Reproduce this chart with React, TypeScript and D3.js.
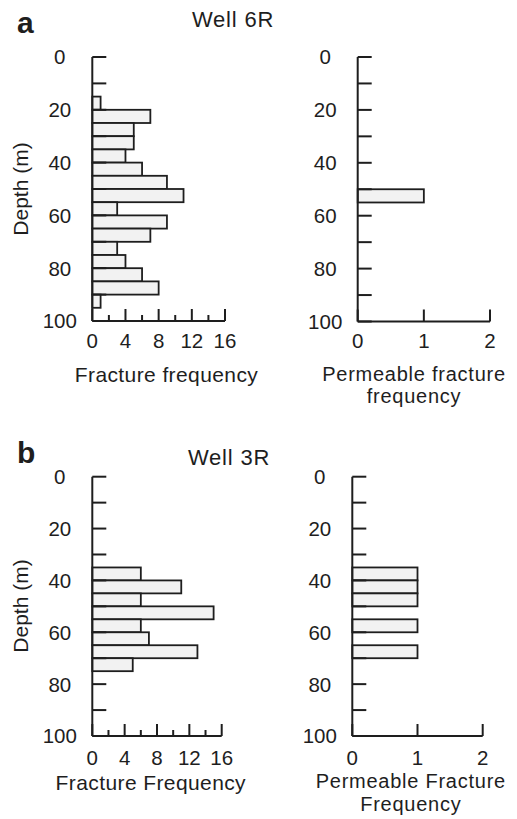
import React from 'react';
import * as d3 from 'd3';

// depth of the top of each 5 m bin, and the count in it
const binSize = 5;
const well6RFracDepth = [15, 20, 25, 30, 35, 40, 45, 50, 55, 60, 65, 70, 75, 80, 85, 90];
const well6RFracFreq = [1, 7, 5, 5, 4, 6, 9, 11, 3, 9, 7, 3, 4, 6, 8, 1];
const well6RPermDepth = [50];
const well6RPermFreq = [1];
const well3RFracDepth = [35, 40, 45, 50, 55, 60, 65, 70];
const well3RFracFreq = [6, 11, 6, 15, 6, 7, 13, 5];
const well3RPermDepth = [35, 40, 45, 55, 65];
const well3RPermFreq = [1, 1, 1, 1, 1];

const depthTicks = [0, 10, 20, 30, 40, 50, 60, 70, 80, 90, 100];
const depthLabels = [0, 20, 40, 60, 80, 100];
const fracTicks = [0, 4, 8, 12, 16];
const fracMinor = [2, 6, 10, 14];
const permTicks = [0, 1, 2];

const ink = '#1e1e1e';
const font = "Arial, 'Liberation Sans', Helvetica, sans-serif";

type PanelProps = {
  depth: number[];
  freq: number[];
  axisX: number;
  right: number;
  top: number;
  bottom: number;
  xMax: number;
  ticks: number[];
  minor: number[];
  tickLabelDy: number;
  title: string[];
  titleX: number;
  titleY: number[];
};

const Panel = (p: PanelProps) => {
  const x = d3.scaleLinear().domain([0, p.xMax]).range([p.axisX, p.right]);
  const y = d3.scaleLinear().domain([0, 100]).range([p.top, p.bottom]);
  const two = p.title.length > 1;
  return (
    <g>
      {p.depth.map((d, i) => (
        <rect key={'b' + i} x={x(0)} y={y(d)} width={x(p.freq[i]) - x(0)}
          height={y(d + binSize) - y(d)} fill="#f2f2f2" stroke={ink} strokeWidth={1.8} />
      ))}
      {depthTicks.map(t => (
        <line key={'yt' + t} x1={p.axisX} x2={p.axisX + 14} y1={y(t)} y2={y(t)} stroke={ink} strokeWidth={2} />
      ))}
      {depthLabels.map(t => (
        <text key={'yl' + t} x={p.axisX - 32.5} y={y(t)} dy="0.36em" textAnchor="middle"
          fontSize={20.5} fill={ink} fontFamily={font}>{t}</text>
      ))}
      <line x1={p.axisX} x2={p.axisX} y1={y(0)} y2={y(100)} stroke={ink} strokeWidth={2} />
      <line x1={p.axisX} x2={x(p.xMax)} y1={y(100)} y2={y(100)} stroke={ink} strokeWidth={2} />
      {p.ticks.map(t => (
        <line key={'xt' + t} x1={x(t)} x2={x(t)} y1={y(100)} y2={y(100) - 12} stroke={ink} strokeWidth={2} />
      ))}
      {p.minor.map(t => (
        <line key={'xm' + t} x1={x(t)} x2={x(t)} y1={y(100)} y2={y(100) - 6} stroke={ink} strokeWidth={2} />
      ))}
      {p.ticks.map(t => (
        <text key={'xl' + t} x={x(t)} y={y(100) + p.tickLabelDy} textAnchor="middle"
          fontSize={20.5} fill={ink} fontFamily={font}>{t}</text>
      ))}
      {p.title.map((s, i) => (
        <text key={'tt' + i} x={p.titleX} y={p.titleY[i]} textAnchor="middle" fontSize={two ? 20 : 21}
          letterSpacing={two ? 0.75 : 0.4} fill={ink} fontFamily={font}>{s}</text>
      ))}
    </g>
  );
};

const App = () => {
  return (
    <svg width={517} height={819} style={{ position: 'absolute', left: 0, top: 0, background: '#fff' }}>
      <rect width={517} height={819} fill="#fff" />
      {/* panel a */}
      <text x={17} y={33} fontSize={30} fontWeight="bold" fill={ink} fontFamily={font}>a</text>
      <text x={233} y={27} textAnchor="middle" fontSize={22} letterSpacing={0.8} fill={ink} fontFamily={font}>Well 6R</text>
      <text transform="translate(28,189) rotate(-90)" textAnchor="middle" fontSize={21} fill={ink} fontFamily={font}>Depth (m)</text>
      <Panel depth={well6RFracDepth} freq={well6RFracFreq} axisX={92.3} right={225} top={57} bottom={321}
        xMax={16} ticks={fracTicks} minor={fracMinor} tickLabelDy={26.5}
        title={['Fracture frequency']} titleX={166.5} titleY={[382]} />
      <Panel depth={well6RPermDepth} freq={well6RPermFreq} axisX={357.7} right={490} top={57} bottom={321.5}
        xMax={2} ticks={permTicks} minor={[]} tickLabelDy={26.5}
        title={['Permeable fracture', 'frequency']} titleX={414} titleY={[380.5, 403.2]} />
      {/* panel b */}
      <text x={17} y={463} fontSize={30} fontWeight="bold" fill={ink} fontFamily={font}>b</text>
      <text x={229} y={465} textAnchor="middle" fontSize={22} letterSpacing={0.8} fill={ink} fontFamily={font}>Well 3R</text>
      <text transform="translate(28,606) rotate(-90)" textAnchor="middle" fontSize={21} fill={ink} fontFamily={font}>Depth (m)</text>
      <Panel depth={well3RFracDepth} freq={well3RFracFreq} axisX={92.3} right={221.7} top={476.7} bottom={736}
        xMax={16} ticks={fracTicks} minor={fracMinor} tickLabelDy={29}
        title={['Fracture Frequency']} titleX={150.8} titleY={[790]} />
      <Panel depth={well3RPermDepth} freq={well3RPermFreq} axisX={352.3} right={482.7} top={476.7} bottom={736}
        xMax={2} ticks={permTicks} minor={[]} tickLabelDy={29}
        title={['Permeable Fracture', 'Frequency']} titleX={410.8} titleY={[788, 810.7]} />
    </svg>
  );
};

export default App;
